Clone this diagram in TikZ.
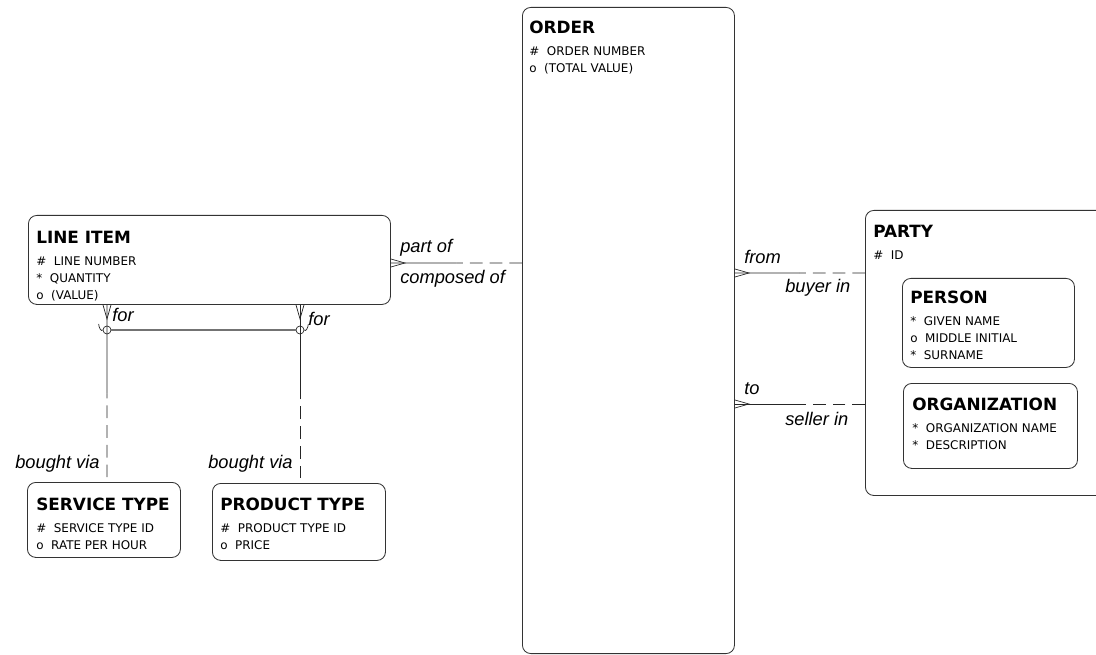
\documentclass[tikz,border=0pt]{standalone}
\usepackage{fontspec}
\setmainfont{Liberation Sans}
\newfontfamily\entfont{DejaVu Sans}
\usetikzlibrary{calc}
\tikzstyle{ent}=[rectangle, rounded corners=6pt, draw=black!80, line width=0.6pt,
  anchor=north west, inner sep=0pt]
\tikzstyle{etxt}=[anchor=north west, inner sep=0pt, align=left,
  font=\entfont\fontsize{8.5}{12}\selectfont]
\tikzstyle{rlbl}=[anchor=base west, inner sep=0pt, font=\itshape\fontsize{13}{15}\selectfont]
\tikzstyle{rel}=[line width=0.5pt, draw=black!85]
\tikzstyle{opt}=[rel, dash pattern=on 9pt off 5pt]
\newcommand{\etitle}[1]{{\fontsize{12}{14}\bfseries #1}\\[3.6pt]}

\begin{document}
\begin{tikzpicture}[x=0.025cm, y=-0.025cm,
  crow/.pic={\draw[rel] (0,-4) -- (14,0) -- (0,4);},
  ring/.style={circle, draw=black!85, line width=0.5pt, inner sep=0pt, minimum size=0.2cm},
  arcbar/.style={draw=black!55, line width=1pt}]
\useasboundingbox (0,0) rectangle (1096,655);
\clip (0,0) rectangle (1096,655);
% entities
\node[ent, minimum width=9.05cm, minimum height=2.225cm] (li) at (28,215) {};
\node[ent, minimum width=3.825cm, minimum height=1.875cm] (svc) at (27,482) {};
\node[ent, minimum width=4.325cm, minimum height=1.925cm] (prod) at (212,483) {};
\node[ent, minimum width=5.3cm, minimum height=16.15cm] (order) at (522,7) {};
\node[ent, minimum width=6.5cm, minimum height=7.125cm] (party) at (865,210) {};
\node[ent, minimum width=4.3cm, minimum height=2.225cm] (person) at (902,278) {};
\node[ent, minimum width=4.35cm, minimum height=2.125cm] (org) at (903,383) {};
\node[etxt] (li-t) at (36,231) {\etitle{LINE ITEM}\#~ LINE NUMBER\\{}*~ QUANTITY\\{}o~ (VALUE)};
\node[etxt] (svc-t) at (36,498) {\etitle{SERVICE TYPE}\#~ SERVICE TYPE ID\\{}o~ RATE PER HOUR};
\node[etxt] (prod-t) at (220,498) {\etitle{PRODUCT TYPE}\#~ PRODUCT TYPE ID\\{}o~ PRICE};
\node[etxt] (order-t) at (529,21) {\etitle{ORDER}\#~ ORDER NUMBER\\{}o~ (TOTAL VALUE)};
\node[etxt] (party-t) at (873,225) {\etitle{PARTY}\#~ ID};
\node[etxt] (person-t) at (910,291) {\etitle{PERSON}{}*~ GIVEN NAME\\{}o~ MIDDLE INITIAL\\{}*~ SURNAME};
\node[etxt] (org-t) at (912,398) {\etitle{ORGANIZATION}{}*~ ORGANIZATION NAME\\{}*~ DESCRIPTION};
% relationship levels
\coordinate (yp) at (0,263);
\coordinate (yb) at (0,273);
\coordinate (ys) at (0,404);
\coordinate (xs) at (107,0);
\coordinate (xp) at (300,0);
\coordinate (po-m) at ($(li.east |- yp)!0.5!(order.west |- yp)$);
\coordinate (by-m) at ($(order.east |- yb)!0.5!(party.west |- yb)$);
\coordinate (se-m) at ($(order.east |- ys)!0.5!(party.west |- ys)$);
\coordinate (sv-m) at ($(li.south -| xs)!0.5!(svc.north -| xs)$);
\coordinate (pr-m) at ($(li.south -| xp)!0.5!(prod.north -| xp)$);
% part of / composed of
\draw[rel] (li.east |- yp) -- (po-m);
\draw[opt] (order.west |- yp) -- (po-m);
\pic at (li.east |- yp) {crow};
% buyer / seller
\draw[rel] (order.east |- yb) -- (by-m);
\draw[opt] (party.west |- yb) -- (by-m);
\pic at (order.east |- yb) {crow};
\draw[rel] (order.east |- ys) -- (se-m);
\draw[opt] (party.west |- ys) -- (se-m);
\pic at (order.east |- ys) {crow};
% bought via (exclusive arc)
\draw[rel] (li.south -| xs) -- (sv-m);
\draw[opt, shorten <=0.12cm] (svc.north -| xs) -- (sv-m);
\pic[rotate=-90] at (li.south -| xs) {crow};
\draw[rel] (li.south -| xp) -- (pr-m);
\draw[opt, shorten <=0.12cm] (prod.north -| xp) -- (pr-m);
\pic[rotate=-90] at (li.south -| xp) {crow};
\node[ring] (c1) at (107,330) {};
\node[ring] (c2) at (300,330) {};
\draw[arcbar] (c1) -- (c2);
\draw[rel] (c1.west) to[out=-120, in=-90] ++(-4,-6);
\draw[rel] (c2.east) to[out=-60, in=-90] ++(4,-6);
% labels
\node[rlbl] (l-partof) at (400,253) {part of};
\node[rlbl] (l-compof) at (400,284) {composed of};
\node[rlbl] (l-for1) at (112,321) {for};
\node[rlbl] (l-for2) at (308,325) {for};
\node[rlbl] (l-bv1) at (15,468) {bought via};
\node[rlbl] (l-bv2) at (208,468) {bought via};
\node[rlbl] (l-from) at (744,264) {from};
\node[rlbl] (l-buyer) at (785,293) {buyer in};
\node[rlbl] (l-to) at (744,394) {to};
\node[rlbl] (l-seller) at (785,425) {seller in};
\end{tikzpicture}
\end{document}
